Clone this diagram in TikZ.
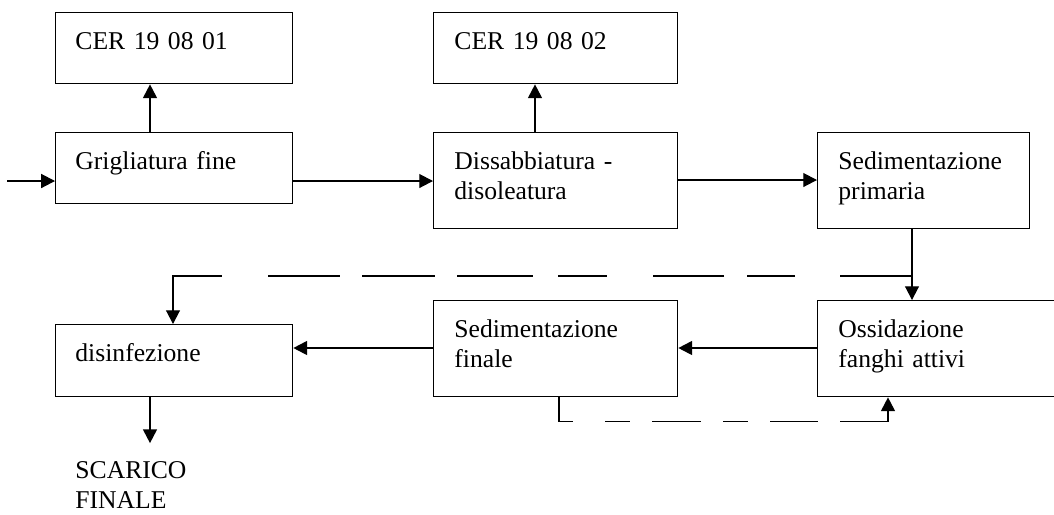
\documentclass[tikz,border=0pt]{standalone}
\usepackage{fontspec}
\setmainfont{Liberation Serif}
\usetikzlibrary{arrows.meta}

\newcommand\px{0.48pt}
\tikzset{
  box/.style={draw, line width=0.65pt, anchor=north west, inner sep=0pt},
  txt/.style={anchor=base west, inner sep=0pt, text width=5cm, align=left,
    font=\fontsize{12.3}{14.4}\selectfont},
  arr/.style={line width=0.65pt, -{Triangle[length=6.6pt,width=6.7pt]}},
  longdash/.style={dash pattern=on 34.56pt off 21.6pt on 23.04pt off 11.04pt
    on 34.08pt off 22.08pt on 23.52pt off 12pt on 36.48pt off 10.56pt
    on 35.04pt off 10.56pt on 34.56pt off 22.08pt on 96pt off 1pt},
  shortdash/.style={dash pattern=on 18.24pt off 15.36pt on 12pt off 10.56pt
    on 23.52pt off 10.56pt on 12pt off 10.56pt on 23.04pt off 10.56pt
    on 48pt off 1pt},
}

\begin{document}
\begin{tikzpicture}[x=\px, y=-\px]
  \useasboundingbox (0,0) rectangle (1054,514);
  \clip (0,0) rectangle (1054,514);
  % waste codes
  \node[box, minimum width=237*\px, minimum height=71*\px] (cer1) at (55,12) {};
  \node[box, minimum width=244*\px, minimum height=71*\px] (cer2) at (433,12) {};
  % first line
  \node[box, minimum width=237*\px, minimum height=71*\px] (grig) at (55,132) {};
  \node[box, minimum width=244*\px, minimum height=96*\px] (diss) at (433,132) {};
  \node[box, minimum width=212*\px, minimum height=96*\px] (sedp) at (817,132) {};
  % second line
  \node[box, minimum width=237*\px, minimum height=72*\px] (disin) at (55,324) {};
  \node[box, minimum width=244*\px, minimum height=96*\px] (sedf) at (433,300) {};
  \node[box, minimum width=253*\px, minimum height=96*\px] (ossid) at (817,300) {};
  % labels
  \node[txt] (cer1t) at (75,49) {CER 19 08 01};
  \node[txt] (cer2t) at (454,49) {CER 19 08 02};
  \node[txt] (grigt) at (75,169) {Grigliatura fine};
  \node[txt] (disst) at (454,169) {Dissabbiatura -\\disoleatura};
  \node[txt] (sedpt) at (838,169) {Sedimentazione\\primaria};
  \node[txt] (disint) at (75,361) {disinfezione};
  \node[txt] (sedft) at (454,337) {Sedimentazione\\finale};
  \node[txt] (ossidt) at (838,337) {Ossidazione\\fanghi attivi};
  \node[txt] (scarico) at (75,478) {SCARICO\\FINALE};
  % flow
  \coordinate (in) at (7,181);
  \draw[arr] (in) -- (grig.west |- in);
  \draw[arr] (grig.north -| 150,0) -- (cer1.south -| 150,0);
  \draw[arr] (grig.east |- in) -- (diss.west |- in);
  \draw[arr] (diss.north -| 535,0) -- (cer2.south -| 535,0);
  \draw[arr] (diss.east |- 0,180) -- (sedp.west |- 0,180);
  \draw[arr] (sedp.south -| 912,0) -- (ossid.north -| 912,0);
  \draw[arr] (ossid.west |- 0,348) -- (sedf.east |- 0,348);
  \draw[arr] (sedf.west |- 0,348) -- (disin.east |- 0,348);
  \draw[arr, shorten >=8.4pt] (disin.south -| 150,0) -- (scarico.north -| 150,0);
  % bypass and return
  \coordinate (byp) at (912,276);
  \draw[arr, longdash] (byp) -| (disin.north -| 173,0);
  \draw[arr, shortdash] (sedf.south -| 559,0) -- ++(0,24) -| (ossid.south -| 888,0);
\end{tikzpicture}
\end{document}
